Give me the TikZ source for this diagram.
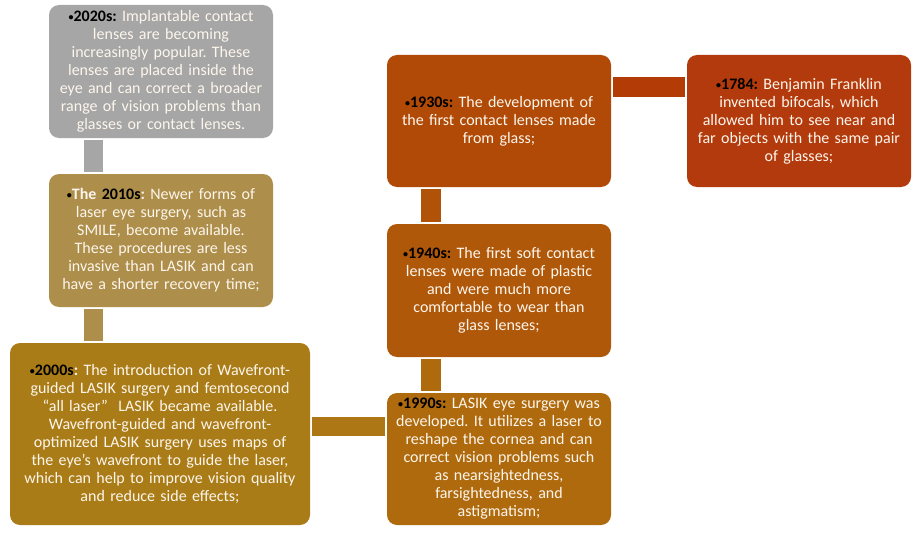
\documentclass[tikz,border=0pt]{standalone}
\usepackage{fontspec}
\setmainfont{Carlito}
\definecolor{cGray}{HTML}{A6A6A6}
\definecolor{c2010}{HTML}{AE8E4B}
\definecolor{c2000}{HTML}{AA7C17}
\definecolor{c1990}{HTML}{AF6A0E}
\definecolor{c1940}{HTML}{B0580A}
\definecolor{c1930}{HTML}{B04A06}
\definecolor{c1784}{HTML}{B33A0C}
\definecolor{cLink}{HTML}{B33B06}
\definecolor{cText}{HTML}{FDF6EC}
\newcommand{\bul}{\raisebox{0.15ex}{\fontsize{10}{10}\selectfont•}}
\newcommand{\yr}[1]{\textbf{\color{black}\bul#1}}
\begin{document}
\begin{tikzpicture}[x=1pt,y=1pt,
  evbox/.style={rounded corners=10pt, inner sep=0pt, minimum width=224pt, minimum height=133pt,
    text width=218pt, align=center, text=cText,
    font=\fontsize{16}{18}\selectfont\frenchspacing},
  link/.style={line width=19.5pt, shorten <=2pt, shorten >=2pt}]
\useasboundingbox (0,0) rectangle (922,-535);
\node[evbox, fill=cGray] (n2020) at (161,-71.5)
  {\yr{2020s:} Implantable contact\\lenses are becoming\\increasingly popular. These\\lenses are placed inside the\\eye and can correct a broader\\range of vision problems than\\glasses or contact lenses.};
\node[evbox, fill=c2010] (n2010) at (161,-240.5)
  {\textbf{{\color{black}\bul}The {\color{black}2010s}:} Newer forms of\\laser eye surgery, such as\\SMILE, become available.\\These procedures are less\\invasive than LASIK and can\\have a shorter recovery time;};
\node[evbox, fill=c2000, minimum width=300pt, minimum height=182pt, text width=296pt] (n2000) at (160,-434)
  {\yr{2000s}\textbf{:} The introduction of Wavefront-\\guided LASIK surgery and femtosecond\\“all laser”~ LASIK became available.\\Wavefront-guided and wavefront-\\optimized LASIK surgery uses maps of\\the eye’s wavefront to guide the laser,\\which can help to improve vision quality\\and reduce side effects;};
\node[evbox, fill=c1990, minimum height=132pt] (n1990) at (499,-459)
  {\yr{1990s:} LASIK eye surgery was\\developed. It utilizes a laser to\\reshape the cornea and can\\correct vision problems such\\as nearsightedness,\\farsightedness, and\\astigmatism;};
\node[evbox, fill=c1940] (n1940) at (499,-290.5)
  {\yr{1940s:} The first soft contact\\lenses were made of plastic\\and were much more\\comfortable to wear than\\glass lenses;};
\node[evbox, fill=c1930, minimum height=132pt] (n1930) at (499,-121)
  {\yr{1930s:} The development of\\the first contact lenses made\\from glass;};
\node[evbox, fill=c1784, minimum height=132pt] (n1784) at (799,-121)
  {\yr{1784:} Benjamin Franklin\\invented bifocals, which\\allowed him to see near and\\far objects with the same pair\\of glasses;};
\draw[link, cGray] ([xshift=44.5pt]n2020.south west) -- ([xshift=44.5pt]n2010.north west);
\draw[link, c2010] ([xshift=44.5pt]n2010.south west) -- ([xshift=83.5pt]n2000.north west);
\draw[link, c2000!70!c1990] ([yshift=-83.5pt]n2000.north east) -- ([yshift=-33.5pt]n1990.north west);
\draw[link, c1990] ([xshift=44pt]n1990.north west) -- ([xshift=44pt]n1940.south west);
\draw[link, c1940!60!c1930] ([xshift=44pt]n1940.north west) -- ([xshift=44pt]n1930.south west);
\draw[link, cLink] ([yshift=-32pt]n1930.north east) -- ([yshift=-32pt]n1784.north west);
\end{tikzpicture}
\end{document}
